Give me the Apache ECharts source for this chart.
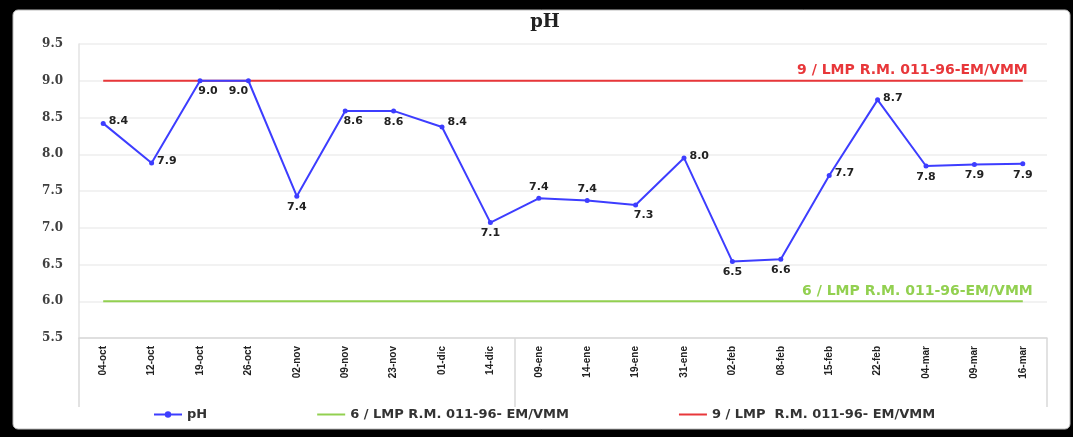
<!DOCTYPE html>
<html>
<head>
<meta charset="utf-8">
<script src="https://cdn.jsdelivr.net/npm/echarts@6/dist/echarts.min.js"></script>
<style>
  html, body { margin: 0; padding: 0; background: #000; }
  #chart { width: 1073px; height: 437px; }
</style>
</head>
<body>
<div id="chart"></div>
<script>
// fechas de muestreo
const categories = ['04-oct', '12-oct', '19-oct', '26-oct', '02-nov', '09-nov', '23-nov', '01-dic', '14-dic',
    '09-ene', '14-ene', '19-ene', '31-ene', '02-feb', '08-feb', '15-feb', '22-feb', '04-mar', '09-mar', '16-mar']
// valores de pH medidos
const phValues = [8.42, 7.88, 9.0, 9.0, 7.43, 8.59, 8.59, 8.37, 7.07, 7.40, 7.37, 7.31, 7.95, 6.54, 6.57, 7.71, 8.74, 7.84, 7.86, 7.87]
// limites maximos permisibles
const lmpMin = [6, 6, 6, 6, 6, 6, 6, 6, 6, 6, 6, 6, 6, 6, 6, 6, 6, 6, 6, 6]
const lmpMax = [9, 9, 9, 9, 9, 9, 9, 9, 9, 9, 9, 9, 9, 9, 9, 9, 9, 9, 9, 9]
const yTicks = [5.5, 6.0, 6.5, 7.0, 7.5, 8.0, 8.5, 9.0, 9.5]

const seriesNames = ['pH', '6 / LMP R.M. 011-96- EM/VMM', '9 / LMP  R.M. 011-96- EM/VMM']
const lineLabels = ['6 / LMP R.M. 011-96-EM/VMM', '9 / LMP R.M. 011-96-EM/VMM']

// donde va cada etiqueta de dato (solo estilo)
const labelPlace = ['right', 'right', 'bottomR', 'bottomL', 'bottom', 'bottomR', 'bottom', 'rightUp', 'bottom',
    'top', 'top', 'bottomR', 'right', 'bottom', 'bottom', 'right', 'right', 'bottom', 'bottom', 'bottom']

const placeStyle = {
    right: { position: 'right', offset: [-2, -2] },
    rightUp: { position: 'right', offset: [-2, -5] },
    top: { position: 'top', offset: [0, 2] },
    bottom: { position: 'bottom', offset: [0, -2] },
    bottomR: { position: 'bottom', offset: [8, -3] },
    bottomL: { position: 'bottom', offset: [-10, -3] },
}

const chart = echarts.init(document.getElementById('chart'))

const limitSeries = (name, data, color, text, offset) => ({
    name,
    type: 'line',
    data,
    symbol: 'none',
    silent: true,
    lineStyle: { color, width: 2 },
    itemStyle: { color },
    endLabel: {
        show: true,
        formatter: text,
        align: 'right',
        verticalAlign: 'bottom',
        offset,
        color,
        fontFamily: 'DejaVu Sans',
        fontWeight: 'bold',
        fontSize: 14,
    },
    z: 1,
})

const option = {
    backgroundColor: '#000',
    animation: false,
    graphic: [{
        type: 'rect',
        silent: true,
        z: -10,
        shape: { x: 13, y: 10, width: 1057, height: 419, r: 5 },
        style: { fill: '#fff', stroke: '#bbb', lineWidth: 1 },
    }],
    title: {
        text: 'pH',
        left: 540,
        top: 8,
        textAlign: 'center',
        textStyle: { fontFamily: 'DejaVu Serif', fontWeight: 'bold', fontSize: 18, color: '#222' },
    },
    legend: {
        data: [
            { name: seriesNames[0] },
            { name: seriesNames[1], itemStyle: { opacity: 0 } },
            { name: seriesNames[2], itemStyle: { opacity: 0 } },
        ],
        left: 148,
        top: 403,
        itemGap: 109,
        itemWidth: 28,
        itemHeight: 8,
        textStyle: { fontFamily: 'DejaVu Sans', fontWeight: 'bold', fontSize: 13, color: '#333' },
    },
    grid: { left: 79, right: 26, top: 44, bottom: 99 },
    xAxis: {
        type: 'category',
        data: categories,
        boundaryGap: true,
        axisLine: { lineStyle: { color: '#d9d9d9', width: 1.5 } },
        axisTick: {
            show: true,
            interval: (idx) => idx === 0 || idx === 9,
            length: 69,
            lineStyle: { color: '#d9d9d9', width: 1.5 },
        },
        axisLabel: {
            rotate: 90,
            interval: 0,
            margin: 8,
            fontFamily: 'Liberation Sans Narrow, sans-serif',
            fontWeight: 'bold',
            fontSize: 10,
            color: '#222',
        },
        splitLine: { show: false },
    },
    yAxis: {
        type: 'value',
        min: yTicks[0],
        max: yTicks[yTicks.length - 1],
        interval: 0.5,
        axisLine: { show: true, lineStyle: { color: '#e3e3e3', width: 1.5 } },
        axisTick: { show: false },
        axisLabel: {
            formatter: (v) => v.toFixed(1),
            margin: 16,
            fontFamily: 'DejaVu Serif',
            fontWeight: 'bold',
            fontSize: 12,
            color: '#404040',
        },
        splitLine: { lineStyle: { color: '#eeeeee', width: 1.5 } },
    },
    series: [
        {
            name: seriesNames[0],
            type: 'line',
            data: phValues.map((v, i) => ({ value: v, label: placeStyle[labelPlace[i]] })),
            symbol: 'circle',
            symbolSize: 5,
            lineStyle: { color: '#3d3dff', width: 2 },
            itemStyle: { color: '#3d3dff' },
            label: {
                show: true,
                formatter: (p) => p.value.toFixed(1),
                fontFamily: 'DejaVu Sans',
                fontWeight: 'bold',
                fontSize: 11,
                color: '#222',
            },
            z: 3,
        },
        limitSeries(seriesNames[1], lmpMin, '#92d050', lineLabels[0], [2, -3]),
        limitSeries(seriesNames[2], lmpMax, '#e8373a', lineLabels[1], [-3, -3]),
    ],
}

chart.setOption(option)
</script>
</body>
</html>
